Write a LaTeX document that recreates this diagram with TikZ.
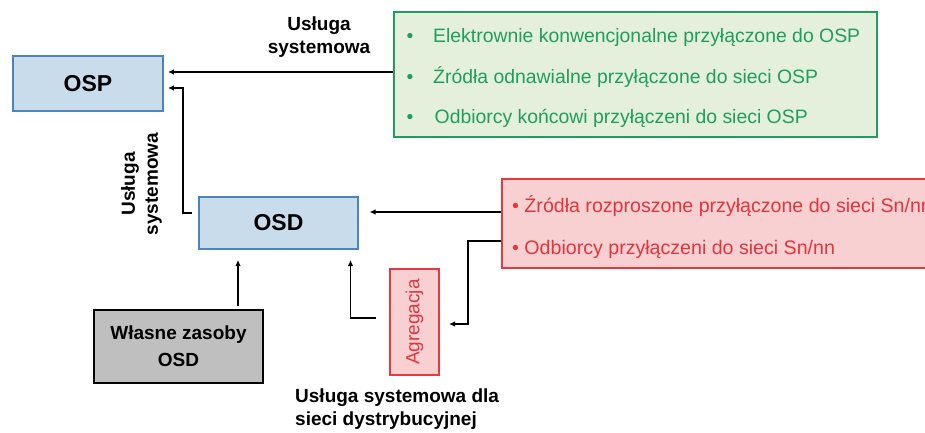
\documentclass[tikz,border=0pt]{standalone}
\usepackage{fontspec}
\setmainfont{Liberation Sans}
\usetikzlibrary{arrows.meta,calc}
\definecolor{bluefill}{HTML}{C8DCEC}
\definecolor{bluebd}{HTML}{4A86BD}
\definecolor{greenfill}{HTML}{E4EFDC}
\definecolor{greenbd}{HTML}{1BA15A}
\definecolor{greentxt}{HTML}{1F9E5E}
\definecolor{redfill}{HTML}{F8D0D1}
\definecolor{redbd}{HTML}{E5383F}
\definecolor{redtxt}{HTML}{E0363D}
\definecolor{grayfill}{HTML}{BFBFBF}
\begin{document}
\begin{tikzpicture}[x=1pt,y=-1pt,
  bluebox/.style={draw=bluebd,fill=bluefill,line width=2pt,inner sep=0pt,
    font=\fontsize{23}{27}\selectfont\bfseries},
  greenbox/.style={draw=greenbd,fill=greenfill,line width=2.5pt,inner sep=0pt},
  redbox/.style={draw=redbd,fill=redfill,line width=2pt,inner sep=0pt},
  graybox/.style={draw=black,fill=grayfill,line width=2.2pt,inner sep=0pt,align=center,
    font=\fontsize{19}{27}\selectfont\bfseries},
  greentext/.style={anchor=base west,inner sep=0pt,text=greentxt,font=\fontsize{19.4}{23}\selectfont},
  redtext/.style={anchor=base west,inner sep=0pt,text=redtxt,font=\fontsize{19.6}{23}\selectfont},
  lbl/.style={inner sep=0pt,font=\fontsize{19}{23}\selectfont\bfseries},
  conn/.style={line width=1.3pt,-{Latex[length=6pt,width=5.5pt]}}]
\useasboundingbox (0,0) rectangle (925,432);
\clip (0,0) rectangle (925,432);
% boxes
\node[bluebox,minimum width=150pt,minimum height=55pt] (osp) at (88,83.5) {OSP};
\node[bluebox,minimum width=159pt,minimum height=52pt] (osd) at (278.5,223) {OSD};
\node[greenbox,minimum width=483pt,minimum height=125pt] (green) at (635.5,74.5) {};
\node[redbox,minimum width=500pt,minimum height=89pt] (red) at (752,223.5) {};
\node[redbox,rotate=90,minimum width=106pt,minimum height=49pt,text=redtxt,
  font=\fontsize{19}{23}\selectfont] (agr) at (414.5,322) {Agregacja};
\node[graybox,minimum width=169pt,minimum height=73pt] (wl) at (178.5,346.5) {Własne zasoby\\OSD};
% list texts
\node[greentext] (g1) at (406.5,42) {\makebox[26.5pt][l]{•}Elektrownie konwencjonalne przyłączone do OSP};
\node[greentext] (g2) at (406.5,83) {\makebox[26.5pt][l]{•}Źródła odnawialne przyłączone do sieci OSP};
\node[greentext] (g3) at (406.5,123) {\makebox[28pt][l]{•}Odbiorcy końcowi przyłączeni do sieci OSP};
\node[redtext] (r1) at (512,212) {• Źródła rozproszone przyłączone do sieci Sn/nn};
\node[redtext] (r2) at (512,254) {• Odbiorcy przyłączeni do sieci Sn/nn};
% labels
\node[lbl,align=center] (l1) at (319,37.5) {Usługa\\systemowa};
\node[lbl,align=center,rotate=90] (l2) at (141.5,184) {Usługa\\systemowa};
\node[lbl,align=left,anchor=west] (l3) at (295,409) {Usługa systemowa dla\\sieci dystrybucyjnej};
% connectors
\draw[conn] ($(green.west)+(0,-2.5)$) -- ($(osp.east)+(4,-11.5)$);
\draw[conn] ($(osd.west)+(-6,-10)$) -| ($(osp.east)+(19,4.5)$) -- ($(osp.east)+(4,4.5)$);
\draw[conn] ($(red.west)+(0,-11.5)$) -- ($(osd.east)+(10.5,-11)$);
\draw[conn] ($(red.west)+(0,17.5)$) -| ($(agr.south)+(28,2)$) -- ($(agr.south)+(9,2)$);
\draw[conn] ($(agr.north)+(-13,-4)$) -| ($(osd.south)+(72,10)$);
\draw[conn] ($(wl.north)+(59.5,-3)$) -- ($(osd.south)+(-40.5,10)$);
\end{tikzpicture}
\end{document}
